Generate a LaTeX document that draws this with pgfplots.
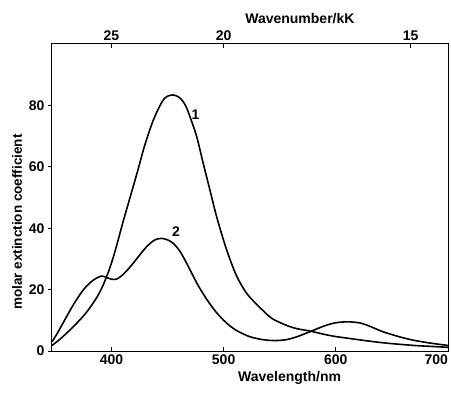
\documentclass[border=0pt]{standalone}
\usepackage{pgfplots}
\pgfplotsset{compat=1.18}
\usepackage{fontspec}
\setmainfont{Liberation Sans}
\begin{document}
\begin{tikzpicture}
\pgfplotsset{
  every axis/.append style={
    scale only axis, width=396pt, height=307pt,
    xmin=347, xmax=700, ymin=0, ymax=100,
    font=\fontsize{14}{16}\selectfont\bfseries,
    tick label style={font=\fontsize{14}{16}\selectfont\bfseries},
    /pgf/number format/assume math mode=true,
    major tick length=4pt,
    axis line style={line width=1pt},
    tick style={line width=1pt, black},
  }
}
\begin{axis}[
  name=main,
  xtick={400,500,600,700},
  xticklabels={400,500,600,{\makebox[0pt][r]{700}}},
  ytick={0,20,40,60,80},
  xtick pos=lower, ytick pos=left,
  xtick align=inside, ytick align=outside,
  xlabel={Wavelength/nm},
  ylabel={molar extinction coefficient},
  xlabel style={at={(ticklabel cs:0.6)}},
  ylabel style={at={(ticklabel cs:0.42)}, font=\fontsize{13.5}{16}\selectfont\bfseries},
]
\addplot[black, line width=1.6pt, smooth, tension=0.5] coordinates {
(347,1.8) (353,3.5) (360,5.8) (367,8.3) (375,11.4) (381,14.2) (387,17.5)
(391,20.2) (394,22.7) (398,26.5) (402,31.0) (406,36.2) (410.5,42.3) (415,48)
(419.4,53.6) (424,59.5) (428.3,65.3) (433,70.8) (437.3,75.2) (442,79)
(446.2,81.8) (450,83) (455,83.4) (460,82.7) (464,81.2) (467,79.2) (470,76.3)
(476,69.8) (481.8,61.1) (487.8,52.4) (493.8,43.7) (502.7,32.9) (511.6,24.4)
(520.5,18.8) (528.6,15.5) (535,13.2) (543,10.6) (555,8.5) (565,7.3)
(577,6.5) (590,5.4) (600,4.7) (612,4.1) (630,3.2) (647,2.5) (670,1.8)
(685,1.5) (700,1.2)
};
\addplot[black, line width=1.6pt, smooth, tension=0.5] coordinates {
(347,3) (351,5.3) (355,7.9) (360,11.2) (364,13.8) (368,16.2) (372.9,18.9)
(377,20.8) (381.8,22.5) (386,23.6) (390.7,24.4) (393,24.3) (396.7,23.8)
(400,23.4) (404.6,23.4) (410,24.8) (415,26.7) (419.4,28.6) (425,31.2)
(431.4,34) (437,35.8) (441,36.5) (444.7,36.7) (450,36.2) (455,35.1)
(461,32.5) (467,28.6) (473,24.3) (478,20.9) (485,16.8) (493,12.8)
(502,9.3) (511,6.8) (523,4.7) (535,3.7) (546,3.4) (556,3.7) (565,4.6)
(577,6.3) (590,8.2) (600,9.2) (611,9.5) (622,9.1) (632,7.8) (641,6.4)
(655,4.8) (668,3.6) (682,2.7) (696,2.0) (700,1.8)
};
\node[font=\fontsize{14}{16}\selectfont\bfseries] at (axis cs:475,77) {1};
\node[font=\fontsize{14}{16}\selectfont\bfseries] at (axis cs:457.5,39) {2};
\end{axis}
\begin{axis}[
  hide y axis,
  axis x line*=top,
  xtick={400,500,666.667},
  xticklabels={25,20,15},
  xtick align=inside,
  xlabel={Wavenumber/kK},
  xlabel style={at={(ticklabel cs:0.626)}},
]
\end{axis}
\pgfresetboundingbox
\path ([shift={(-52pt,-45pt)}]main.south west) rectangle ([shift={(3pt,44pt)}]main.north east);
\end{tikzpicture}
\end{document}
